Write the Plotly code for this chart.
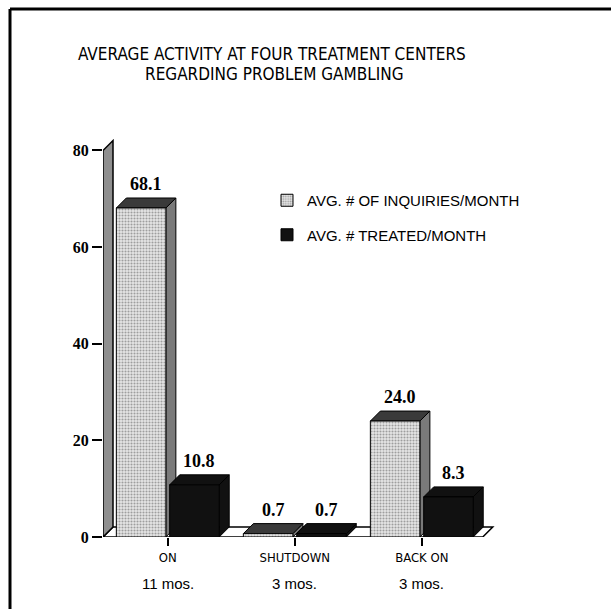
import plotly.graph_objects as go

# ---------------- data ----------------
categories = ["ON", "SHUTDOWN", "BACK ON"]
durations = ["11 mos.", "3 mos.", "3 mos."]
inquiries = [68.1, 0.7, 24.0]
treated = [10.8, 0.7, 8.3]
series_names = ["AVG. # OF INQUIRIES/MONTH", "AVG. # TREATED/MONTH"]
y_ticks = [0, 20, 40, 60, 80]
title_lines = ["AVERAGE ACTIVITY AT FOUR TREATMENT CENTERS", "REGARDING PROBLEM GAMBLING"]

# ---------------- layout geometry ----------------
W, H = 611, 609
L, R, T, B = 103, 113, 136, 72
X_RANGE = [-0.51, 2.6]
Y_RANGE = [0, 83]
plot_w = W - L - R
plot_h = H - T - B
BAR_W = 0.39
OFF = 0.21
DX = 10 / (plot_w / (X_RANGE[1] - X_RANGE[0]))
DY = 10 / (plot_h / (Y_RANGE[1] - Y_RANGE[0]))
FLOOR_END = 2.48

NARROW = "Liberation Sans Narrow, Arial Narrow, DejaVu Sans Condensed, sans-serif"
SANS = "Liberation Sans, Arial, sans-serif"
SERIF = "Liberation Serif, Times New Roman, serif"


def px_x(px):
    return (px - L) / plot_w


def px_y(py):
    return (H - B - py) / plot_h


xs = list(range(len(categories)))
x_inq = [i - OFF for i in xs]
x_trt = [i + OFF for i in xs]

fig = go.Figure()
fig.add_bar(
    x=x_inq, y=inquiries, width=BAR_W, name=series_names[0], legendgroup="a",
    marker=dict(color="white",
                pattern=dict(shape=".", fgcolor="#555", bgcolor="#e6e6e6", size=3, solidity=0.4),
                line=dict(color="black", width=1)),
)
fig.add_bar(
    x=x_trt, y=treated, width=BAR_W, name=series_names[1], legendgroup="b",
    marker=dict(color="#111", line=dict(color="black", width=1)),
)

shapes = []
xl = X_RANGE[0]
# floor
shapes.append(dict(type="path", xref="x", yref="y", layer="below",
                   path=f"M {xl},0 L {FLOOR_END},0 L {FLOOR_END + DX},{DY} L {xl + DX},{DY} Z",
                   fillcolor="white", line=dict(color="black", width=1.5)))
# back wall / axis slab
top = y_ticks[-1]
shapes.append(dict(type="path", xref="x", yref="y", layer="below",
                   path=f"M {xl},0 L {xl},{top} L {xl + DX},{top + DY} L {xl + DX},{DY} Z",
                   fillcolor="#8f8f8f", line=dict(color="black", width=1.5)))


def faces(xc, v, side_col, top_col):
    x0 = xc - BAR_W / 2
    x1 = xc + BAR_W / 2
    return [
        dict(type="path", xref="x", yref="y", layer="below",
             path=f"M {x1},0 L {x1 + DX},{DY} L {x1 + DX},{v + DY} L {x1},{v} Z",
             fillcolor=side_col, line=dict(color="black", width=1)),
        dict(type="path", xref="x", yref="y", layer="below",
             path=f"M {x0},{v} L {x0 + DX},{v + DY} L {x1 + DX},{v + DY} L {x1},{v} Z",
             fillcolor=top_col, line=dict(color="black", width=1)),
    ]


for i in xs:
    shapes += faces(x_inq[i], inquiries[i], "#7a7a7a", "#3a3a3a")
    shapes += faces(x_trt[i], treated[i], "#111", "#111")

# page border (top and left)
shapes.append(dict(type="line", xref="paper", yref="paper", layer="above",
                   x0=px_x(10), y0=px_y(9), x1=px_x(611), y1=px_y(9),
                   line=dict(color="black", width=3)))
shapes.append(dict(type="line", xref="paper", yref="paper", layer="above",
                   x0=px_x(10), y0=px_y(9), x1=px_x(10), y1=px_y(612),
                   line=dict(color="black", width=3)))

annotations = []
for xc_list, vals in ((x_inq, inquiries), (x_trt, treated)):
    for xc, v in zip(xc_list, vals):
        annotations.append(dict(x=xc + DX / 2, y=v + DY, xref="x", yref="y",
                                text=f"{v:.1f}", showarrow=False, yanchor="bottom", yshift=2,
                                font=dict(family=SERIF, size=18, color="black", weight="bold")))
for i, d in zip(xs, durations):
    annotations.append(dict(x=i, y=px_y(583), xref="x", yref="paper", text=d, showarrow=False,
                            yanchor="middle", font=dict(family=SANS, size=15, color="black")))
annotations.append(dict(x=px_x(272), y=px_y(54), xref="paper", yref="paper", text=title_lines[0],
                        showarrow=False, yanchor="middle",
                        font=dict(family=NARROW, size=17, color="black")))
annotations.append(dict(x=px_x(274), y=px_y(74), xref="paper", yref="paper", text=title_lines[1],
                        showarrow=False, yanchor="middle",
                        font=dict(family=NARROW, size=17, color="black")))

fig.update_layout(
    width=W, height=H, autosize=False,
    margin=dict(l=L, r=R, t=T, b=B, pad=0),
    paper_bgcolor="white", plot_bgcolor="rgba(0,0,0,0)",
    barmode="overlay",
    shapes=shapes, annotations=annotations,
    legend=dict(x=px_x(267), y=px_y(184), xanchor="left", yanchor="top",
                font=dict(family=SANS, size=15, color="black"),
                tracegroupgap=12, traceorder="grouped", bgcolor="rgba(0,0,0,0)"),
    xaxis=dict(range=X_RANGE, tickmode="array", tickvals=xs, ticktext=categories,
               ticks="outside", ticklen=8, tickwidth=1.5, tickcolor="black",
               tickfont=dict(family=NARROW, size=13, color="black"),
               showgrid=False, zeroline=False, showline=False),
    yaxis=dict(range=Y_RANGE, tickmode="array", tickvals=y_ticks,
               ticks="outside", ticklen=10, tickwidth=1.5, tickcolor="black",
               tickfont=dict(family=SERIF, size=16, color="black", weight="bold"),
               showgrid=False, zeroline=False, showline=False),
)

fig.write_html("out.html", config={"displayModeBar": False},
               post_script="document.body.style.margin='0px';")
